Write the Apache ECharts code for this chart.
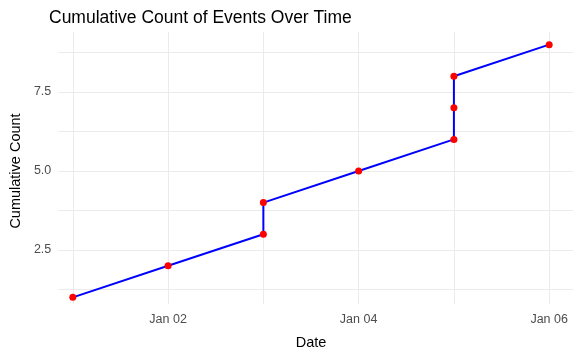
<!DOCTYPE html>
<html><head><meta charset="utf-8">
<script src="https://cdn.jsdelivr.net/npm/echarts@6/dist/echarts.min.js"></script>
<style>html,body{margin:0;padding:0;background:#fff}#c{width:581px;height:355px}</style>
</head><body><div id="c"></div>
<script>
// Data
const eventDates = ['2024-01-01','2024-01-02','2024-01-03','2024-01-03','2024-01-04','2024-01-05','2024-01-05','2024-01-05','2024-01-06'];
const cumulativeCounts = [1,2,3,4,5,6,7,8,9];
const xTickDays = ['2024-01-02','2024-01-04','2024-01-06'];
const yTickLabels = [2.5, 5.0, 7.5];

const origin = Date.parse('2024-01-01T00:00:00Z');
const dayOf = d => (Date.parse(d + 'T00:00:00Z') - origin) / 86400000;
const pts = eventDates.map((d, i) => [dayOf(d), cumulativeCounts[i]]);
const labelDays = xTickDays.map(dayOf);
const months = ['Jan','Feb','Mar','Apr','May','Jun','Jul','Aug','Sep','Oct','Nov','Dec'];
function fmtDay(v){
  const dt = new Date(origin + v*86400000);
  return months[dt.getUTCMonth()] + ' ' + String(dt.getUTCDate()).padStart(2,'0');
}

const FONT = 'Liberation Sans, Arial, sans-serif';
const gridColor = '#EBEBEB';
// panel geometry
const pTop = 32, pBottom = 45, pLeft = 49, pRight = 8;
const yMin = 0.6, yMax = 9.4;
const pH = 355 - pTop - pBottom;
const pxPerY = pH / (yMax - yMin);
const xMin = -0.25, xMax = 5.25;
const pW = 581 - pLeft - pRight;
const pxPerX = pW / (xMax - xMin);

const chart = echarts.init(document.getElementById('c'), null, {renderer:'canvas'});
chart.setOption({
  animation: false,
  backgroundColor: '#fff',
  title: {
    text: 'Cumulative Count of Events Over Time',
    left: 44, top: 4,
    textStyle: {fontFamily: FONT, fontSize: 17.5, fontWeight: 'normal', color: '#000'}
  },
  grid: [
    {left: pLeft, right: pRight, top: pTop, bottom: pBottom},
    {left: pLeft + (0 - xMin)*pxPerX, right: pRight + (xMax - 5)*pxPerX, top: pTop, bottom: pBottom},
    {left: pLeft, right: pRight, top: pTop + (yMax - 8.75)*pxPerY, bottom: pBottom + (1.25 - yMin)*pxPerY}
  ],
  xAxis: [
    {type:'value', gridIndex:0, min:xMin, max:xMax, show:false},
    {type:'value', gridIndex:1, min:0, max:5, interval:1,
      axisLine:{show:false}, axisTick:{show:false},
      splitLine:{show:true, lineStyle:{color:gridColor, width:1}},
      axisLabel:{color:'#4D4D4D', fontFamily:FONT, fontSize:12.5, margin:9,
        formatter: v => labelDays.indexOf(v) >= 0 ? fmtDay(v) : ''},
      name:'Date', nameLocation:'middle', nameGap:31,
      nameTextStyle:{color:'#000', fontFamily:FONT, fontSize:14.5}},
    {type:'value', gridIndex:2, min:0, max:1, show:false}
  ],
  yAxis: [
    {type:'value', gridIndex:0, min:yMin, max:yMax, show:false},
    {type:'value', gridIndex:1, min:0, max:1, show:false},
    {type:'value', gridIndex:2, min:1.25, max:8.75, interval:1.25,
      axisLine:{show:false}, axisTick:{show:false},
      splitLine:{show:true, lineStyle:{color:gridColor, width:1}},
      axisLabel:{color:'#4D4D4D', fontFamily:FONT, fontSize:12.5, margin:7,
        formatter: v => yTickLabels.some(t => Math.abs(t - v) < 1e-6) ? v.toFixed(1) : ''},
      name:'Cumulative Count', nameLocation:'middle', nameGap:34,
      nameTextStyle:{color:'#000', fontFamily:FONT, fontSize:14.5}}
  ],
  series: [{
    type:'line', xAxisIndex:0, yAxisIndex:0, data: pts,
    lineStyle:{color:'#0000FF', width:2},
    symbol:'circle', symbolSize:7, showSymbol:true,
    itemStyle:{color:'#FF0000'}, z:5
  }]
});
</script></body></html>
